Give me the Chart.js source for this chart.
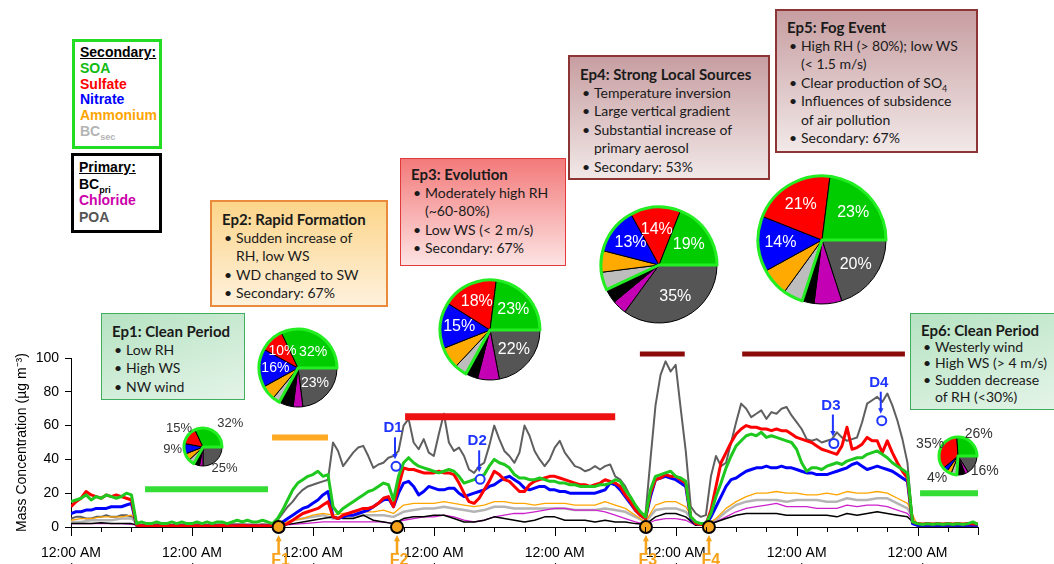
<!DOCTYPE html>
<html>
<head>
<meta charset="utf-8">
<script src="https://cdn.jsdelivr.net/npm/chart.js@4.4.0/dist/chart.umd.min.js"></script>
<style>
  html, body { margin: 0; padding: 0; background: #fff; }
  #wrap { position: relative; width: 1054px; height: 564px; overflow: hidden; font-family: Arial, "Liberation Sans", sans-serif; }
  #main { position: absolute; left: 0; top: 0; }
  .pie { position: absolute; }
  .legend { position: absolute; box-sizing: border-box; background: #fff; font: bold 14px Arial, "Liberation Sans", sans-serif; line-height: 15.8px; padding: 3px 0 0 5px; }
  .legend u { color: #000; }
  .legend sub { font-size: 9px; line-height: 0; }
  .ep { position: absolute; box-sizing: border-box; padding: 8px 4px 0 10px; font-family: Lato, "Open Sans", sans-serif; font-size: 14px; line-height: 18.5px; color: #1a1a1a; }
  .ep .t { font-weight: bold; font-size: 15px; }
  .ep .b { position: relative; padding-left: 14px; }
  .ep .b::before { content: '\2022'; position: absolute; left: 2px; }
  .ep sub { font-size: 9px; line-height: 0; }
  .green { background: linear-gradient(160deg, #b6e3c2, #e4f4e8); border: 1.5px solid #3fae5f; }
  .orange { background: linear-gradient(180deg, #fcd58a, #fef1dc); border: 2px solid #e98a3c; }
  .red { background: linear-gradient(180deg, #f37a7a, #fde3e3); border: 1.5px solid #e23a3a; }
  .mauve { background: linear-gradient(180deg, #c79ea1, #f2e8e8); border: 2px solid #8d3434; }
</style>
</head>
<body>
<div id="wrap">
  <canvas id="main" width="1054" height="564"></canvas>

  <div class="legend" style="left:72px;top:39px;width:90px;height:110px;border:3px solid #22dd22;">
    <u>Secondary:</u><br>
    <span style="color:#11bb11">SOA</span><br>
    <span style="color:#ff0000">Sulfate</span><br>
    <span style="color:#0000ff">Nitrate</span><br>
    <span style="color:#ffa500">Ammonium</span><br>
    <span style="color:#b4b4b4">BC<sub>sec</sub></span>
  </div>
  <div class="legend" style="left:71px;top:153px;width:91px;height:80px;border:3px solid #000;line-height:16.5px;">
    <u>Primary:</u><br>
    <span style="color:#000">BC<sub>pri</sub></span><br>
    <span style="color:#cc00aa">Chloride</span><br>
    <span style="color:#555">POA</span>
  </div>

  <div class="ep green" style="left:101px;top:313px;width:144px;height:87px;">
    <div class="t">Ep1: Clean Period</div>
    <div class="b">Low RH</div>
    <div class="b">High WS</div>
    <div class="b">NW wind</div>
  </div>
  <div class="ep orange" style="left:210px;top:200px;width:178px;height:107px;">
    <div class="t">Ep2: Rapid Formation</div>
    <div class="b">Sudden increase of<br>RH, low WS</div>
    <div class="b">WD changed to SW</div>
    <div class="b">Secondary: 67%</div>
  </div>
  <div class="ep red" style="left:400px;top:158px;width:166px;height:108px;padding-top:6px;">
    <div class="t">Ep3: Evolution</div>
    <div class="b">Moderately high RH<br>(~60-80%)</div>
    <div class="b">Low WS (&lt; 2 m/s)</div>
    <div class="b">Secondary: 67%</div>
  </div>
  <div class="ep mauve" style="left:568px;top:55px;width:202px;height:125px;">
    <div class="t">Ep4: Strong Local Sources</div>
    <div class="b">Temperature inversion</div>
    <div class="b">Large vertical gradient</div>
    <div class="b">Substantial increase of<br>primary aerosol</div>
    <div class="b">Secondary: 53%</div>
  </div>
  <div class="ep mauve" style="left:775px;top:9px;width:203px;height:144px;padding-top:7px;">
    <div class="t">Ep5: Fog Event</div>
    <div class="b">High RH (&gt; 80%); low WS<br>(&lt; 1.5 m/s)</div>
    <div class="b">Clear production of SO<sub>4</sub></div>
    <div class="b">Influences of subsidence<br>of air pollution</div>
    <div class="b">Secondary: 67%</div>
  </div>
  <div class="ep green" style="left:910px;top:313px;width:146px;height:97px;line-height:16.7px;">
    <div class="t">Ep6: Clean Period</div>
    <div class="b">Westerly wind</div>
    <div class="b">High WS (&gt; 4 m/s)</div>
    <div class="b">Sudden decrease<br>of RH (&lt;30%)</div>
  </div>

  <canvas class="pie" id="pie1"></canvas>
  <canvas class="pie" id="pie2"></canvas>
  <canvas class="pie" id="pie3"></canvas>
  <canvas class="pie" id="pie4"></canvas>
  <canvas class="pie" id="pie5"></canvas>
  <canvas class="pie" id="pie6"></canvas>
</div>

<script>
// time axis: hours since 11/25 00:00
// hourly samples for the thick traces, 2-hourly for the minor species
const hoursFine = Array.from({ length: 181 }, (_, i) => i);
const hours = Array.from({ length: 91 }, (_, i) => i * 2);
const dayLabels = ['11/25', '11/26', '11/27', '11/28', '11/29', '11/30', '12/1', '12/2'];

// mass concentrations, µg m-3 (hourly)
const soa = [
  15, 16, 17, 19, 16, 18, 17, 19, 18, 17, 18, 20, 19,
  2, 3, 2, 2, 3, 2, 2, 3, 2, 3, 2, 2, 3, 2, 3, 2, 3, 3, 2, 3, 4, 3, 4, 3, 3, 4, 3, 2,
  5, 10, 16, 22, 26, 28, 30, 31, 33, 30, 31,
  12, 8, 11, 13, 15, 17, 19, 21, 22, 24, 26, 25, 16,
  30, 38, 41, 38, 36, 35, 34, 33, 32, 33, 34, 33, 30, 26, 27, 28, 30, 31, 36, 40, 38, 37, 35, 31, 29,
  29, 28, 28, 29, 28, 27, 27, 26, 26, 25, 25, 24, 24, 24, 24, 25, 25, 26, 28, 27, 22, 18, 13, 9, 6,
  22, 30, 31, 32, 33, 30, 29, 27, 6, 3, 2, 2,
  8, 18, 26, 35, 42, 48, 51, 54, 55, 54, 56, 53, 54, 53, 52, 51, 50, 46, 38, 33,
  35, 35, 34, 36, 37, 38, 37, 39, 40, 41, 41, 43, 44, 45, 43, 41, 38, 36, 34, 32,
  3, 2, 1.5, 2, 1.5, 2, 1.5, 2, 1.5, 2, 1.5, 2, 3, 1.5
];
const sulfate = [
  12, 15, 17, 21, 19, 18, 17, 19, 18, 19, 18, 17, 16,
  1, 0.8, 0.8, 0.7, 0.8, 0.8, 0.9, 0.7, 0.8, 0.8, 0.8, 0.9, 0.8, 0.8, 0.7, 0.8, 0.8, 0.9, 0.8, 0.8, 0.8, 0.9, 0.8, 0.8, 0.8, 0.7, 0.8, 0.8,
  0.8, 1, 2, 4, 6, 8, 9, 10, 11, 13, 15,
  6, 5, 7, 8, 9, 10, 11, 11, 12, 14, 17, 18, 12,
  24, 35, 34, 34, 33, 32, 32, 32, 33, 32, 32, 31, 26, 20, 15, 14, 17, 22, 27, 33, 31, 28, 27, 24, 21,
  21, 25, 27, 28, 29, 30, 30, 29, 28, 27, 26, 25, 25, 24, 25, 26, 28, 27, 26, 24, 19, 15, 10, 7, 5,
  20, 28, 29, 31, 30, 30, 28, 26, 6, 2, 1.5, 1.5,
  10, 24, 38, 44, 50, 55, 58, 60, 59, 59, 58, 58, 57, 58, 57, 57, 55, 53, 52, 51,
  50, 48, 46, 45, 44, 43, 48, 59, 46, 47, 49, 53, 51, 51, 44, 51, 44, 38, 33, 29,
  3, 2, 1.8, 2, 1.8, 2, 1.8, 2, 1.8, 2, 1.8, 2, 1.8, 1.8
];
const nitrate = [
  8, 9, 9, 10, 10, 11, 11, 11, 12, 12, 12, 13, 14,
  0.9, 0.8, 0.8, 0.8, 0.8, 0.7, 0.8, 0.8, 0.8, 0.8, 0.7, 0.8, 0.8, 0.8, 0.8, 0.7, 0.8, 0.8, 0.8, 0.8, 0.9, 0.8, 0.8, 0.8, 0.8, 0.8, 0.8, 0.8,
  1, 3, 5, 7, 9, 11, 12, 14, 16, 19, 21,
  6, 5, 6, 7, 7, 8, 9, 10, 12, 14, 16, 17, 12,
  20, 26, 27, 24, 19, 21, 24, 23, 22, 22, 23, 23, 20, 18, 19, 20, 21, 22, 24, 25, 27, 29, 30, 28, 26,
  23, 22, 23, 24, 24, 22, 22, 21, 21, 20, 20, 20, 20, 20, 20, 21, 22, 26, 25, 22, 18, 14, 10, 7, 5,
  18, 28, 29, 30, 29, 28, 26, 24, 5, 2, 1.5, 1.5,
  6, 12, 18, 24, 28, 29, 31, 33, 34, 35, 35, 36, 35, 35, 36, 35, 35, 34, 33, 32,
  32, 31, 31, 31, 32, 33, 34, 35, 37, 38, 36, 34, 35, 36, 35, 34, 33, 31, 29, 27,
  2, 1, 1, 1, 1, 1, 1, 1, 1, 1, 1, 1, 1, 1
];
const poa = [
  5, 6, 6, 5, 5, 6, 6, 7, 6, 6, 7, 7, 6,
  1.5, 1.5, 1.4, 1.6, 1.6, 1.5, 1.5, 1.4, 1.3, 1.5, 1.5, 1.6, 1.6, 1.5, 1.4, 1.5, 1.5, 1.6, 1.5, 1.7, 1.7, 1.6, 1.5, 1.5, 1.4, 1.6, 1.5, 2,
  4, 8, 12, 15, 19, 22, 24, 25, 26, 27, 28,
  50, 45, 36, 40, 44, 47, 48, 42, 35, 37, 38, 41, 42,
  45, 60, 64, 50, 46, 52, 44, 42, 55, 67, 50, 45, 47, 42, 34, 32, 36, 38, 48, 60, 52, 45, 42, 38, 44,
  60, 54, 45, 40, 36, 40, 47, 51, 44, 40, 36, 35, 33, 34, 36, 34, 36, 37, 30, 28, 24, 18, 12, 8, 7,
  40, 72, 90, 98, 92, 96, 70, 45, 12, 8, 6, 7,
  30, 42, 36, 38, 50, 62, 73, 70, 65, 67, 69, 64, 68, 67, 70, 71, 66, 62, 58, 52,
  51, 52, 50, 51, 52, 56, 53, 51, 52, 53, 62, 73, 75, 77, 74, 79, 72, 63, 52, 38,
  3, 1.2, 1.3, 1.2, 1.1, 1.2, 1.3, 1.2, 1.2, 1.1, 1.2, 1.3, 1.2, 1.2
];

// minor species (2-hourly)
const ammonium = [
  4, 5, 5, 6, 6, 6, 7,
  0.6, 0.5, 0.5, 0.5, 0.6, 0.5, 0.5, 0.5, 0.5, 0.6, 0.5, 0.5, 0.5, 0.5,
  2, 4, 5, 7, 8,
  7, 8, 9, 9, 9, 10, 8,
  13, 14, 14, 14, 15, 14, 13, 12, 13, 15, 15, 14, 14, 13, 14, 14, 14, 13, 13, 13, 15, 13, 11, 7, 3,
  13, 15, 15, 12, 1.5, 1,
  5, 11, 15, 18, 20, 20, 21, 20, 20, 19, 19, 20, 19, 21, 20, 20, 21, 20, 17, 14,
  0.8, 0.8, 0.8, 0.8, 0.8, 0.8, 0.8
];
const bcSec = [
  3, 3, 4, 4, 4, 5, 5,
  0.8, 0.7, 0.7, 0.8, 0.7, 0.7, 0.8, 0.7, 0.7, 0.8, 0.7, 0.7, 0.8, 0.7,
  2, 4, 5, 6, 7,
  5, 6, 6, 7, 7, 7, 6,
  9, 10, 11, 11, 12, 11, 10, 9, 10, 12, 12, 11, 11, 11, 11, 11, 11, 10, 10, 10, 11, 10, 9, 6, 3,
  10, 11, 11, 9, 1.5, 1,
  4, 9, 13, 15, 16, 16, 16, 15, 16, 16, 16, 15, 15, 17, 16, 16, 17, 17, 14, 11,
  0.8, 0.8, 0.8, 0.8, 0.8, 0.8, 0.8
];
const bcPri = [
  2, 2, 2, 2.5, 2, 2, 2,
  0.5, 0.5, 0.6, 0.5, 0.5, 0.5, 0.6, 0.5, 0.5, 0.5, 0.6, 0.5, 0.5, 0.5,
  1, 2, 3, 4, 5,
  6, 5, 5, 7, 4, 3, 2,
  5, 6, 6, 7, 7, 5, 3, 3, 4, 6, 5, 4, 3, 4, 6, 6, 4, 4, 4, 3, 4, 3, 3, 2, 1.5,
  6, 8, 8, 6, 1, 1,
  3, 5, 7, 8, 8, 8, 8, 7, 7, 7, 7, 7, 6, 8, 7, 8, 9, 8, 7, 6,
  0.6, 0.6, 0.6, 0.6, 0.6, 0.6, 0.6
];
const chloride = [
  2, 2, 2, 2, 2, 2, 1.5,
  0.8, 0.8, 0.9, 0.8, 0.8, 0.8, 0.8, 0.9, 0.8, 0.8, 0.8, 0.8, 0.9, 0.8,
  1, 1.5, 2, 2.5, 3,
  3, 3, 3, 3, 3, 3, 2,
  4, 5, 6, 6, 7, 6, 4, 3, 4, 6, 7, 8, 8, 9, 10, 11, 11, 10, 10, 10, 9, 7, 5, 3, 1.5,
  4, 5, 5, 4, 1, 1,
  3, 6, 9, 11, 12, 13, 14, 12, 12, 12, 11, 11, 11, 13, 12, 13, 13, 12, 10, 8,
  1, 1, 1, 1, 1, 1, 1
];

// episode periods (start/end hour, bar level)
const epStart = [14.7, 39.9, 66.3, 112.9, 133.2, 168.5];
const epEnd = [39.1, 51.0, 108.0, 121.8, 165.5, 180];
const epLevel = [22.4, 52.9, 65.3, 102.4, 102.4, 20];
const epColors = ['#33dd33', '#ffaa22', '#ee1111', '#8b0b0b', '#8b0b0b', '#33dd33'];
const epWidths = [6, 6, 7, 5, 5, 6];

// formation onsets F1-F4 and marked drops D1-D4
const fNames = ['F1', 'F2', 'F3', 'F4'];
const fHours = [41.2, 64.7, 114.1, 126.6];
const dNames = ['D1', 'D2', 'D3', 'D4'];
const dHours = [64.5, 81.2, 151.4, 160.9];
const dValues = [35.9, 28.2, 49.4, 62.9];

// pie composition per episode (%), clockwise from 3 o'clock
const pieSpecies = ['POA', 'Chloride', 'BCpri', 'BCsec', 'Ammonium', 'Nitrate', 'Sulfate', 'SOA'];
const ep1Pie = [25, 3, 5, 5, 6, 9, 15, 32];
const ep2Pie = [23, 4, 6, 3, 6, 16, 10, 32];
const ep3Pie = [22, 7, 4, 4, 7, 15, 18, 23];
const ep4Pie = [35, 4, 4, 5, 6, 13, 14, 19];
const ep5Pie = [20, 7, 3, 5, 7, 14, 21, 23];
const ep6Pie = [16, 3, 7, 5, 4, 4, 35, 26];
const pieColors = ['#555555', '#c400b4', '#000000', '#bdbdbd', '#ffaa00', '#0000ff', '#ff0000', '#00cc00'];
const labelledSlices = [0, 5, 6, 7];

function series(values, grid) {
  return grid.map((h, i) => ({ x: h, y: values[i] }));
}

function drawArrow(ctx, x1, y1, x2, y2, color, width, head) {
  const a = Math.atan2(y2 - y1, x2 - x1);
  ctx.strokeStyle = color;
  ctx.fillStyle = color;
  ctx.lineWidth = width;
  ctx.beginPath();
  ctx.moveTo(x1, y1);
  ctx.lineTo(x2 - Math.cos(a) * head * 0.8, y2 - Math.sin(a) * head * 0.8);
  ctx.stroke();
  ctx.beginPath();
  ctx.moveTo(x2, y2);
  ctx.lineTo(x2 - head * Math.cos(a - 0.45), y2 - head * Math.sin(a - 0.45));
  ctx.lineTo(x2 - head * Math.cos(a + 0.45), y2 - head * Math.sin(a + 0.45));
  ctx.closePath();
  ctx.fill();
}

// tick marks on the time axis: long at midnight, short every 6 h
const timeTicks = {
  id: 'timeTicks',
  afterDraw(chart) {
    const { ctx, scales: { x }, chartArea } = chart;
    ctx.save();
    ctx.strokeStyle = '#000';
    ctx.lineWidth = 1;
    for (let h = 0; h <= 180; h += 6) {
      const px = Math.round(x.getPixelForValue(h)) + 0.5;
      const len = h % 24 === 0 ? 9 : (h === 180 ? 8 : 5);
      ctx.beginPath();
      ctx.moveTo(px, chartArea.bottom);
      ctx.lineTo(px, chartArea.bottom + len);
      ctx.stroke();
    }
    ctx.restore();
  }
};

// D / F callouts with arrows
const markerNotes = {
  id: 'markerNotes',
  afterDatasetsDraw(chart) {
    const { ctx, scales: { x, y } } = chart;
    ctx.save();
    ctx.textAlign = 'center';
    ctx.textBaseline = 'middle';
    dNames.forEach((name, i) => {
      const px = x.getPixelForValue(dHours[i]);
      const py = y.getPixelForValue(dValues[i]);
      ctx.font = 'bold 15px Arial, "Liberation Sans", sans-serif';
      ctx.fillStyle = '#1f35ff';
      ctx.fillText(name, px - 3, py - 38);
      drawArrow(ctx, px - 1, py - 29, px - 1, py - 7, '#1f35ff', 2, 6);
    });
    fNames.forEach((name, i) => {
      const px = x.getPixelForValue(fHours[i]);
      const py = y.getPixelForValue(0);
      drawArrow(ctx, px, py + 26, px, py + 8, '#f7a21b', 2.5, 7);
      ctx.font = 'bold 16px Arial, "Liberation Sans", sans-serif';
      ctx.fillStyle = '#f7a21b';
      ctx.fillText(name, px + 2, py + 34);
    });
    ctx.restore();
  }
};

const lineSets = [
  { label: 'SOA', data: series(soa, hoursFine), borderColor: '#1ec81e', borderWidth: 3, order: 2 },
  { label: 'Sulfate', data: series(sulfate, hoursFine), borderColor: '#ff0000', borderWidth: 3, order: 3 },
  { label: 'Nitrate', data: series(nitrate, hoursFine), borderColor: '#0000ff', borderWidth: 3, order: 4 },
  { label: 'Ammonium', data: series(ammonium, hours), borderColor: '#ffa500', borderWidth: 1.3, order: 5 },
  { label: 'BCpri', data: series(bcPri, hours), borderColor: '#000000', borderWidth: 1.5, order: 6 },
  { label: 'Chloride', data: series(chloride, hours), borderColor: '#cc22cc', borderWidth: 1.3, order: 7 },
  { label: 'BCsec', data: series(bcSec, hours), borderColor: '#b4b4b4', borderWidth: 2.5, order: 8 },
  { label: 'POA', data: series(poa, hoursFine), borderColor: '#5f5f5f', borderWidth: 2, order: 9 }
];

const barSets = epStart.map((s, i) => ({
  label: 'Ep' + (i + 1),
  data: [{ x: s, y: epLevel[i] }, { x: epEnd[i], y: epLevel[i] }],
  borderColor: epColors[i],
  borderWidth: epWidths[i],
  borderCapStyle: 'butt',
  clip: false,
  order: 1
}));

const markerSets = [
  {
    label: 'F', data: fHours.map(h => ({ x: h, y: 0 })), showLine: false, clip: false, order: 0,
    pointRadius: 6, pointBackgroundColor: '#f7a21b', pointBorderColor: '#000', pointBorderWidth: 2
  },
  {
    label: 'D', data: dHours.map((h, i) => ({ x: h, y: dValues[i] })), showLine: false, clip: false, order: 0,
    pointRadius: 4.5, pointBackgroundColor: '#fff', pointBorderColor: '#1f35ff', pointBorderWidth: 2
  }
];

new Chart(document.getElementById('main'), {
  type: 'line',
  data: { datasets: [...markerSets, ...barSets, ...lineSets] },
  options: {
    responsive: false,
    animation: false,
    devicePixelRatio: 1,
    layout: { padding: { left: 0, top: 358, right: 76, bottom: 0 } },
    elements: { point: { radius: 0 }, line: { tension: 0, fill: false, borderJoinStyle: 'round' } },
    plugins: { legend: { display: false }, tooltip: { enabled: false } },
    scales: {
      x: {
        type: 'linear', min: 0, max: 180,
        afterFit: s => { s.height = 37; },
        border: { color: '#000', width: 1 },
        grid: { drawOnChartArea: false, tickLength: 9, color: 'rgba(0,0,0,0)' },
        ticks: {
          stepSize: 6, autoSkip: false, maxRotation: 0, padding: 9, color: '#000',
          font: { family: 'Arial, "Liberation Sans", sans-serif', size: 14 },
          callback: v => (v % 24 === 0 ? ['12:00 AM', dayLabels[v / 24]] : '')
        }
      },
      y: {
        min: 0, max: 100,
        afterFit: s => { s.width = 71; },
        border: { color: '#000', width: 1 },
        grid: { drawOnChartArea: false, tickLength: 6, color: '#000' },
        ticks: {
          stepSize: 20, padding: 6, color: '#000',
          font: { family: 'Arial, "Liberation Sans", sans-serif', size: 14 }
        },
        title: {
          display: true, text: 'Mass Concentration (\u00b5g m\u207b\u00b3)', color: '#000',
          padding: { top: 14, bottom: 0 },
          font: { family: 'Arial, "Liberation Sans", sans-serif', size: 14 }
        }
      }
    }
  },
  plugins: [timeTicks, markerNotes]
});

// green rim around the secondary part of each pie
const secondaryRim = {
  id: 'secondaryRim',
  afterDatasetsDraw(chart) {
    const arcs = chart.getDatasetMeta(0).data;
    const first = arcs[3], last = arcs[7];
    const ctx = chart.ctx;
    ctx.save();
    ctx.strokeStyle = '#22ee22';
    ctx.lineWidth = 3;
    ctx.lineJoin = 'round';
    ctx.beginPath();
    ctx.moveTo(first.x, first.y);
    ctx.arc(first.x, first.y, first.outerRadius, first.startAngle, last.endAngle);
    ctx.closePath();
    ctx.stroke();
    ctx.restore();
  }
};

const sliceLabels = {
  id: 'sliceLabels',
  afterDraw(chart, args, opts) {
    const arcs = chart.getDatasetMeta(0).data;
    const vals = chart.data.datasets[0].data;
    const ctx = chart.ctx;
    ctx.save();
    ctx.font = opts.size + 'px Arial, "Liberation Sans", sans-serif';
    ctx.fillStyle = opts.color;
    ctx.textAlign = 'center';
    ctx.textBaseline = 'middle';
    labelledSlices.forEach(i => {
      const a = arcs[i];
      const mid = (a.startAngle + a.endAngle) / 2;
      const rr = a.outerRadius * opts.at;
      const n = (opts.nudge && opts.nudge[i]) || [0, 0];
      ctx.fillText(vals[i] + '%', a.x + Math.cos(mid) * rr + n[0], a.y + Math.sin(mid) * rr + n[1]);
    });
    ctx.restore();
  }
};

function makePie(id, values, spec) {
  const cv = document.getElementById(id);
  cv.width = spec.w;
  cv.height = spec.h;
  cv.style.left = (spec.cx - spec.w / 2) + 'px';
  cv.style.top = (spec.cy - spec.h / 2) + 'px';
  const padX = (spec.w - (2 * spec.r + 1)) / 2;
  const padY = (spec.h - (2 * spec.r + 1)) / 2;
  new Chart(cv, {
    type: 'pie',
    data: {
      labels: pieSpecies,
      datasets: [{ data: values, backgroundColor: pieColors, borderColor: '#000', borderWidth: 1 }]
    },
    options: {
      responsive: false,
      animation: false,
      devicePixelRatio: 1,
      rotation: 90,
      layout: { padding: { left: padX, right: padX, top: padY, bottom: padY } },
      plugins: {
        legend: { display: false },
        tooltip: { enabled: false },
        sliceLabels: { size: spec.size, color: spec.color, at: spec.at, nudge: spec.nudge }
      }
    },
    plugins: [secondaryRim, sliceLabels]
  });
}

makePie('pie1', ep1Pie, { cx: 203, cy: 447, r: 19, w: 110, h: 84, size: 13, color: '#333', at: 1.6, nudge: { 7: [11, 2] } });
makePie('pie2', ep2Pie, { cx: 298, cy: 368, r: 39, w: 86, h: 86, size: 14, color: '#fff', at: 0.58, nudge: { 7: [3, 3] } });
makePie('pie3', ep3Pie, { cx: 490, cy: 330, r: 50, w: 108, h: 108, size: 16, color: '#fff', at: 0.62 });
makePie('pie4', ep4Pie, { cx: 659, cy: 265, r: 58, w: 124, h: 124, size: 16, color: '#fff', at: 0.62 });
makePie('pie5', ep5Pie, { cx: 822, cy: 240, r: 64, w: 136, h: 136, size: 16, color: '#fff', at: 0.65 });
makePie('pie6', ep6Pie, { cx: 958, cy: 456, r: 19, w: 110, h: 84, size: 14, color: '#333', at: 1.6 });
</script>
</body>
</html>
